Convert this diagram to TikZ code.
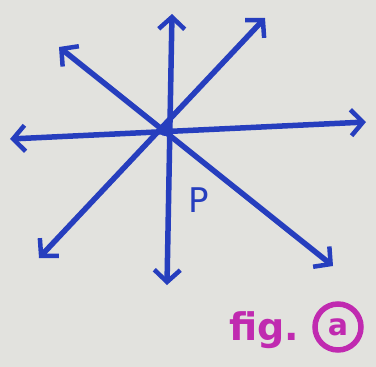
\documentclass[tikz,border=0pt]{standalone}
\usepackage{fontspec}
\setmainfont{DejaVu Sans}
\usetikzlibrary{arrows.meta}
\definecolor{paper}{RGB}{226,226,222}
\definecolor{pen}{RGB}{38,62,190}
\definecolor{ink}{RGB}{192,42,176}
\tikzset{
  ray/.style={draw=pen, line width=5.5pt, line cap=round,
    {Straight Barb[length=12pt,width=26pt,line width=4.5pt]}-{Straight Barb[length=12pt,width=26pt,line width=4.5pt]}},
  lbl/.style={text=pen, font=\fontsize{34}{34}\selectfont},
}
\begin{document}
\begin{tikzpicture}[x=1pt,y=-1pt]
\fill[paper] (0,0) rectangle (376,367);
\useasboundingbox (0,0) rectangle (376,367);
\coordinate (P) at (165,130);
\coordinate (L) at (10,139);
\coordinate (R) at (366,122);
\coordinate (U) at (172,14);
\coordinate (D) at (167,285);
\coordinate (UL) at (59,47);
\coordinate (LR) at (333,266);
\coordinate (UR) at (265,18);
\coordinate (LL) at (39,258);
\draw[ray] (L) -- (R);
\draw[ray] (U) -- (D);
\draw[ray] (UL) -- (LR);
\draw[ray] (UR) -- (LL);
\fill[pen] (P) circle (6);
\node[lbl] (p) at (199,200) {P};
\node[text=ink, font=\fontsize{38}{38}\selectfont\bfseries] (fig) at (264,330) {fig.};
\node[draw=ink, line width=5.5pt, circle, minimum size=46pt, inner sep=0pt, text=ink,
  font=\fontsize{30}{30}\selectfont\bfseries] (a) at (338,327) {a};
\end{tikzpicture}
\end{document}
